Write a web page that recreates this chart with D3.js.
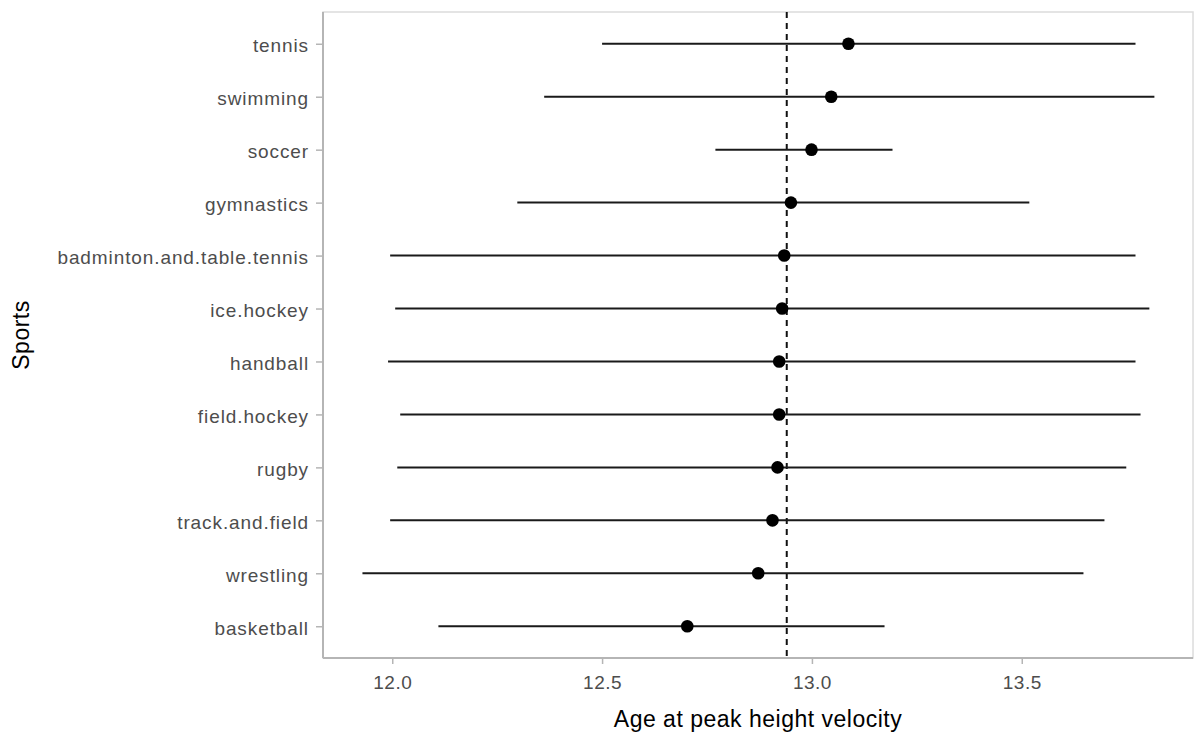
<!DOCTYPE html>
<meta charset="utf-8">
<script src="https://d3js.org/d3.v7.min.js"></script>
<style>
  body { margin: 0; background: #fff; }
  text { font-family: "Liberation Sans", Arial, sans-serif; }
</style>
<div id="chart"></div>
<script>
// sports, bottom to top
var sports = ["basketball", "wrestling", "track.and.field", "rugby", "field.hockey", "handball",
              "ice.hockey", "badminton.and.table.tennis", "gymnastics", "soccer", "swimming", "tennis"];
var estimate = [12.703, 12.872, 12.906, 12.918, 12.922, 12.922, 12.929, 12.934, 12.950, 12.999, 13.046, 13.087];
var lower    = [12.110, 11.929, 11.995, 12.012, 12.019, 11.990, 12.007, 11.995, 12.298, 12.770, 12.362, 12.500];
var upper    = [13.173, 13.647, 13.697, 13.749, 13.783, 13.771, 13.804, 13.771, 13.518, 13.192, 13.816, 13.771];
var overallMean = 12.94;
var xTicks = [12.0, 12.5, 13.0, 13.5];

var W = 1194, H = 735;
var panel = {left: 323, right: 1193, top: 12, bottom: 658};

var svg = d3.select("#chart").append("svg")
  .attr("width", W)
  .attr("height", H);

var x = d3.scaleLinear()
  .domain([11.835, 13.908])
  .range([panel.left, panel.right]);

var y = d3.scalePoint()
  .domain(sports)
  .range([panel.bottom, panel.top])
  .padding(0.6);

var rows = sports.map(function(s, i) {
  return {sport: s, est: estimate[i], lo: lower[i], hi: upper[i]};
});

// panel border
svg.append("rect")
  .attr("x", panel.left)
  .attr("y", panel.top)
  .attr("width", panel.right - panel.left)
  .attr("height", panel.bottom - panel.top)
  .attr("fill", "none")
  .attr("stroke", "#dcdcdc")
  .attr("stroke-width", 1.5);

// x axis
var xAxis = svg.append("g")
  .attr("transform", "translate(0," + panel.bottom + ")")
  .call(d3.axisBottom(x).tickValues(xTicks).tickFormat(d3.format(".1f")).tickSize(6).tickPadding(12));
xAxis.select(".domain")
  .attr("d", "M" + panel.left + ",0H" + panel.right)
  .attr("stroke", "#b5b5b5")
  .attr("stroke-width", 2);
xAxis.selectAll(".tick line").attr("stroke", "#b5b5b5").attr("stroke-width", 1.5);
xAxis.selectAll(".tick text")
  .attr("fill", "#4d4d4d")
  .style("font-size", "19px")
  .style("letter-spacing", "0.5px");

// y axis
var yAxis = svg.append("g")
  .attr("transform", "translate(" + panel.left + ",0)")
  .call(d3.axisLeft(y).tickSize(7).tickPadding(7));
yAxis.select(".domain")
  .attr("d", "M0," + panel.top + "V" + panel.bottom)
  .attr("stroke", "#b5b5b5")
  .attr("stroke-width", 2);
yAxis.selectAll(".tick line").attr("stroke", "#b5b5b5").attr("stroke-width", 1.5);
yAxis.selectAll(".tick text")
  .attr("fill", "#4d4d4d")
  .attr("dy", "0.42em")
  .style("font-size", "19px")
  .style("letter-spacing", "0.9px");

// reference line at the overall mean
svg.append("line")
  .attr("x1", x(overallMean))
  .attr("x2", x(overallMean))
  .attr("y1", panel.top)
  .attr("y2", panel.bottom)
  .attr("stroke", "#111")
  .attr("stroke-width", 2)
  .attr("stroke-dasharray", "6,5");

// intervals
svg.selectAll(".bar")
  .data(rows)
  .enter().append("line")
    .attr("class", "bar")
    .attr("x1", function(d) { return x(d.lo); })
    .attr("x2", function(d) { return x(d.hi); })
    .attr("y1", function(d) { return y(d.sport); })
    .attr("y2", function(d) { return y(d.sport); })
    .attr("stroke", "#1a1a1a")
    .attr("stroke-width", 2);

// point estimates
svg.selectAll(".dot")
  .data(rows)
  .enter().append("circle")
    .attr("class", "dot")
    .attr("cx", function(d) { return x(d.est); })
    .attr("cy", function(d) { return y(d.sport); })
    .attr("r", 6.3)
    .attr("fill", "#000");

// axis titles
svg.append("text")
  .attr("x", (panel.left + panel.right) / 2)
  .attr("y", 727)
  .attr("text-anchor", "middle")
  .attr("fill", "#000")
  .style("font-size", "23px")
  .style("letter-spacing", "0.5px")
  .text("Age at peak height velocity");

svg.append("text")
  .attr("transform", "translate(29," + ((panel.top + panel.bottom) / 2) + ") rotate(-90)")
  .attr("text-anchor", "middle")
  .attr("fill", "#000")
  .style("font-size", "23px")
  .style("letter-spacing", "0.5px")
  .text("Sports");
</script>
